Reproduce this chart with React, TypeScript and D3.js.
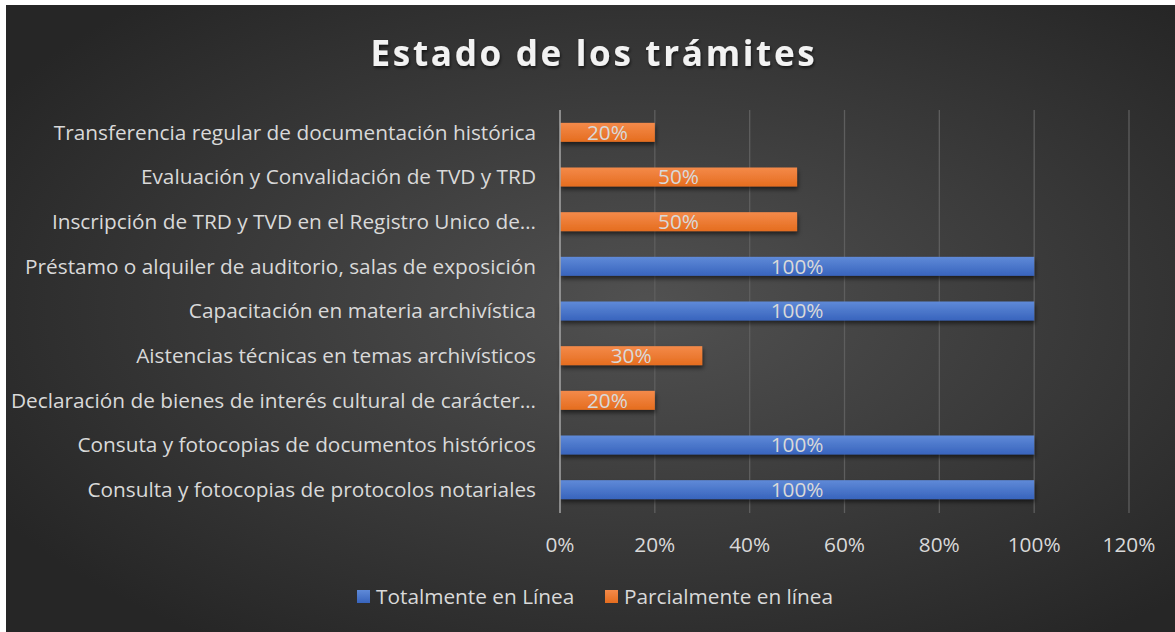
import React from "react";
import * as d3 from "d3";

const categories = [
  "Consulta y fotocopias de protocolos notariales",
  "Consuta y fotocopias de documentos históricos",
  "Declaración de bienes de interés cultural de carácter…",
  "Aistencias técnicas en temas archivísticos",
  "Capacitación en materia archivística",
  "Préstamo o alquiler de auditorio, salas de exposición",
  "Inscripción de TRD y TVD en el Registro Unico de…",
  "Evaluación y Convalidación de TVD y TRD",
  "Transferencia regular de documentación histórica",
];
const totalmente = [1, 1, null, null, 1, 1, null, null, null];
const parcialmente = [null, null, 0.2, 0.3, null, null, 0.5, 0.5, 0.2];
const xTicks = [0, 0.2, 0.4, 0.6, 0.8, 1, 1.2];
const seriesNames = ["Totalmente en Línea", "Parcialmente en línea"];

const width = 1175;
const height = 632;
const margin = { top: 110, right: 46, bottom: 120, left: 560 };
const font = "'Open Sans', sans-serif";
const textColor = "#d9d9d9";
const fs = 20.8;

export default function App() {
  const x = d3
    .scaleLinear()
    .domain([0, 1.2])
    .range([margin.left, width - margin.right]);

  const y = d3
    .scaleBand()
    .domain(categories.slice().reverse())
    .range([margin.top, height - margin.bottom])
    .paddingInner(0.575)
    .paddingOuter(0.2875);

  const pct = d3.format(".0%");

  const bars = [];
  categories.forEach((c, i) => {
    const t = totalmente[i];
    const p = parcialmente[i];
    if (t != null) bars.push({ c, v: t, fill: "url(#gBlue)", key: "t" + i });
    if (p != null) bars.push({ c, v: p, fill: "url(#gOrange)", key: "p" + i });
  });

  return (
    <svg
      width={width}
      height={height}
      style={{ position: "absolute", left: 0, top: 0, background: "#fff" }}
    >
      <defs>
        <radialGradient id="bg" cx="55%" cy="48%" r="65%">
          <stop offset="0%" stopColor="#515151" />
          <stop offset="100%" stopColor="#262626" />
        </radialGradient>
        <linearGradient id="gBlue" x1="0" y1="0" x2="0" y2="1">
          <stop offset="0%" stopColor="#5f8ad8" />
          <stop offset="100%" stopColor="#3864bd" />
        </linearGradient>
        <linearGradient id="gOrange" x1="0" y1="0" x2="0" y2="1">
          <stop offset="0%" stopColor="#f48a4a" />
          <stop offset="100%" stopColor="#e56d1f" />
        </linearGradient>
        <filter id="shadow" x="-10%" y="-50%" width="120%" height="220%">
          <feDropShadow dx="1" dy="3" stdDeviation="2" floodColor="#000" floodOpacity="0.55" />
        </filter>
        <filter id="tshadow" x="-10%" y="-30%" width="120%" height="160%">
          <feDropShadow dx="1" dy="2" stdDeviation="1.5" floodColor="#000" floodOpacity="0.6" />
        </filter>
      </defs>

      <rect x={6} y={5} width={width - 6} height={height - 5} fill="url(#bg)" />

      <text
        x={594}
        y={66}
        textAnchor="middle"
        fill="#f2f2f2"
        fontFamily={font}
        fontWeight={700}
        fontSize={35}
        letterSpacing={2.7}
        filter="url(#tshadow)"
      >
        Estado de los trámites
      </text>

      {/* gridlines */}
      {xTicks.slice(1).map((t) => (
        <line
          key={t}
          x1={x(t)}
          x2={x(t)}
          y1={margin.top}
          y2={height - margin.bottom + 1}
          stroke="#5e5e5e"
          strokeWidth={1.3}
        />
      ))}

      {/* bars */}
      {bars.map((b) => (
        <g key={b.key}>
          <rect
            x={x(0)}
            y={y(b.c)}
            width={x(b.v) - x(0)}
            height={y.bandwidth()}
            fill={b.fill}
            filter="url(#shadow)"
          />
          <text
            x={(x(0) + x(b.v)) / 2}
            y={y(b.c) + y.bandwidth() / 2}
            dy="0.36em"
            textAnchor="middle"
            fill={textColor}
            fontFamily={font}
            fontSize={fs}
          >
            {pct(b.v)}
          </text>
        </g>
      ))}

      {/* axis line */}
      <line
        x1={x(0)}
        x2={x(0)}
        y1={margin.top}
        y2={height - margin.bottom + 1}
        stroke="#a6a6a6"
        strokeWidth={1.5}
      />

      {/* category labels */}
      {categories.map((c) => (
        <text
          key={c}
          x={x(0) - 24}
          y={y(c) + y.bandwidth() / 2}
          dy="0.36em"
          textAnchor="end"
          fill={textColor}
          fontFamily={font}
          fontSize={fs}
        >
          {c}
        </text>
      ))}

      {/* x tick labels */}
      {xTicks.map((t) => (
        <text
          key={t}
          x={x(t)}
          y={545}
          dy="0.36em"
          textAnchor="middle"
          fill={textColor}
          fontFamily={font}
          fontSize={fs}
        >
          {pct(t)}
        </text>
      ))}

      {/* legend */}
      <g fontFamily={font} fontSize={fs} fill={textColor}>
        <rect x={357} y={590} width={13} height={13} fill="url(#gBlue)" />
        <text x={376} y={597} dy="0.36em">
          {seriesNames[0]}
        </text>
        <rect x={605} y={590} width={13} height={13} fill="url(#gOrange)" />
        <text x={624} y={597} dy="0.36em">
          {seriesNames[1]}
        </text>
      </g>
    </svg>
  );
}
